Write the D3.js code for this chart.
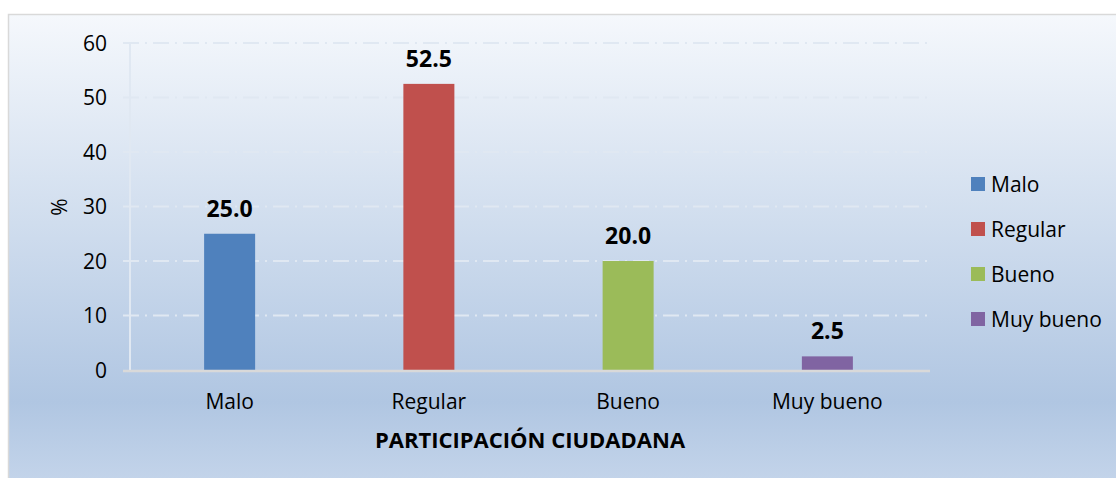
<!DOCTYPE html>
<html>
<head>
<meta charset="utf-8">
<script src="https://cdn.jsdelivr.net/npm/d3@7"></script>
<style>
  body { margin: 0; background: #fff; }
  text { font-family: "Open Sans", sans-serif; fill: #000; }
</style>
</head>
<body>
<script>
var width = 1116,
    height = 478;

// Datos
const categorias = ["Malo", "Regular", "Bueno", "Muy bueno"];
const valores = [25.0, 52.5, 20.0, 2.5];
const colores = ["#4F81BD", "#C0504D", "#9BBB59", "#8064A2"];
const ticksY = [0, 10, 20, 30, 40, 50, 60];

var margin = { left: 130, right: 189, top: 43, bottom: 108 };

var svg = d3.select("body").append("svg")
    .attr("width", width)
    .attr("height", height);

// fondo con degradado
var defs = svg.append("defs");
var grad = defs.append("linearGradient")
    .attr("id", "fondo")
    .attr("x1", 0).attr("y1", 0).attr("x2", 0).attr("y2", 1);
grad.append("stop").attr("offset", "0%").attr("stop-color", "#f5f8fc");
grad.append("stop").attr("offset", "81%").attr("stop-color", "#b0c6e2");
grad.append("stop").attr("offset", "100%").attr("stop-color", "#c6d6eb");

svg.append("rect")
    .attr("x", 8.5).attr("y", 14.5)
    .attr("width", width).attr("height", height)
    .attr("fill", "url(#fondo)")
    .attr("stroke", "#d9d9d9")
    .attr("stroke-width", 1.5);

var x = d3.scaleBand()
    .domain(categorias)
    .range([margin.left, width - margin.right])
    .paddingInner(0.744)
    .paddingOuter(0.372);

var y = d3.scaleLinear()
    .domain([0, 60])
    .range([height - margin.bottom, margin.top]);

var g = svg.append("g");

// líneas de cuadrícula
g.selectAll("line.grid")
    .data(ticksY.filter(d => d > 0))
    .join("line")
    .attr("class", "grid")
    .attr("x1", margin.left - 7)
    .attr("x2", width - margin.right)
    .attr("y1", d => y(d))
    .attr("y2", d => y(d))
    .attr("stroke", "#e0e8f2")
    .attr("stroke-width", 2)
    .attr("stroke-dasharray", "16,6,2,6");

// eje vertical
g.append("line")
    .attr("x1", margin.left).attr("x2", margin.left)
    .attr("y1", y(60)).attr("y2", y(0))
    .attr("stroke", "#e0e8f2")
    .attr("stroke-width", 2);

// etiquetas del eje Y
g.selectAll("text.tick")
    .data(ticksY)
    .join("text")
    .attr("class", "tick")
    .attr("x", 107)
    .attr("y", d => y(d))
    .attr("dy", "0.36em")
    .attr("text-anchor", "end")
    .style("font-size", "21px")
    .text(d => d);

// barras
g.selectAll("rect.bar")
    .data(valores)
    .join("rect")
    .attr("class", "bar")
    .attr("x", (d, i) => x(categorias[i]))
    .attr("width", x.bandwidth())
    .attr("y", d => y(d))
    .attr("height", d => y(0) - y(d))
    .attr("fill", (d, i) => colores[i]);

// eje horizontal
g.append("line")
    .attr("x1", margin.left - 7).attr("x2", width - margin.right + 3)
    .attr("y1", y(0) + 1).attr("y2", y(0) + 1)
    .attr("stroke", "#d9d9d9")
    .attr("stroke-width", 2.5);

// valores sobre las barras
g.selectAll("text.valor")
    .data(valores)
    .join("text")
    .attr("class", "valor")
    .attr("x", (d, i) => x(categorias[i]) + x.bandwidth() / 2)
    .attr("y", d => y(d) - 17)
    .attr("text-anchor", "middle")
    .style("font-size", "23px")
    .style("font-weight", "bold")
    .text(d => d.toFixed(1));

// etiquetas de categorías
g.selectAll("text.cat")
    .data(categorias)
    .join("text")
    .attr("class", "cat")
    .attr("x", d => x(d) + x.bandwidth() / 2)
    .attr("y", 409)
    .attr("text-anchor", "middle")
    .style("font-size", "21px")
    .text(d => d);

// título del eje X
svg.append("text")
    .attr("x", 530)
    .attr("y", 448)
    .attr("text-anchor", "middle")
    .style("font-size", "22px")
    .style("font-weight", "bold")
    .text("PARTICIPACIÓN CIUDADANA");

// título del eje Y
svg.append("text")
    .attr("transform", "translate(67,207) rotate(-90)")
    .attr("text-anchor", "middle")
    .style("font-size", "21px")
    .text("%");

// leyenda
var leyenda = svg.append("g")
    .selectAll("g")
    .data(categorias)
    .join("g")
    .attr("transform", (d, i) => `translate(971,${184 + i * 45})`);

leyenda.append("rect")
    .attr("x", 0).attr("y", -7)
    .attr("width", 14).attr("height", 14)
    .attr("fill", (d, i) => colores[i]);

leyenda.append("text")
    .attr("x", 20)
    .attr("y", 0)
    .attr("dy", "0.36em")
    .style("font-size", "21px")
    .text(d => d);
</script>
</body>
</html>
